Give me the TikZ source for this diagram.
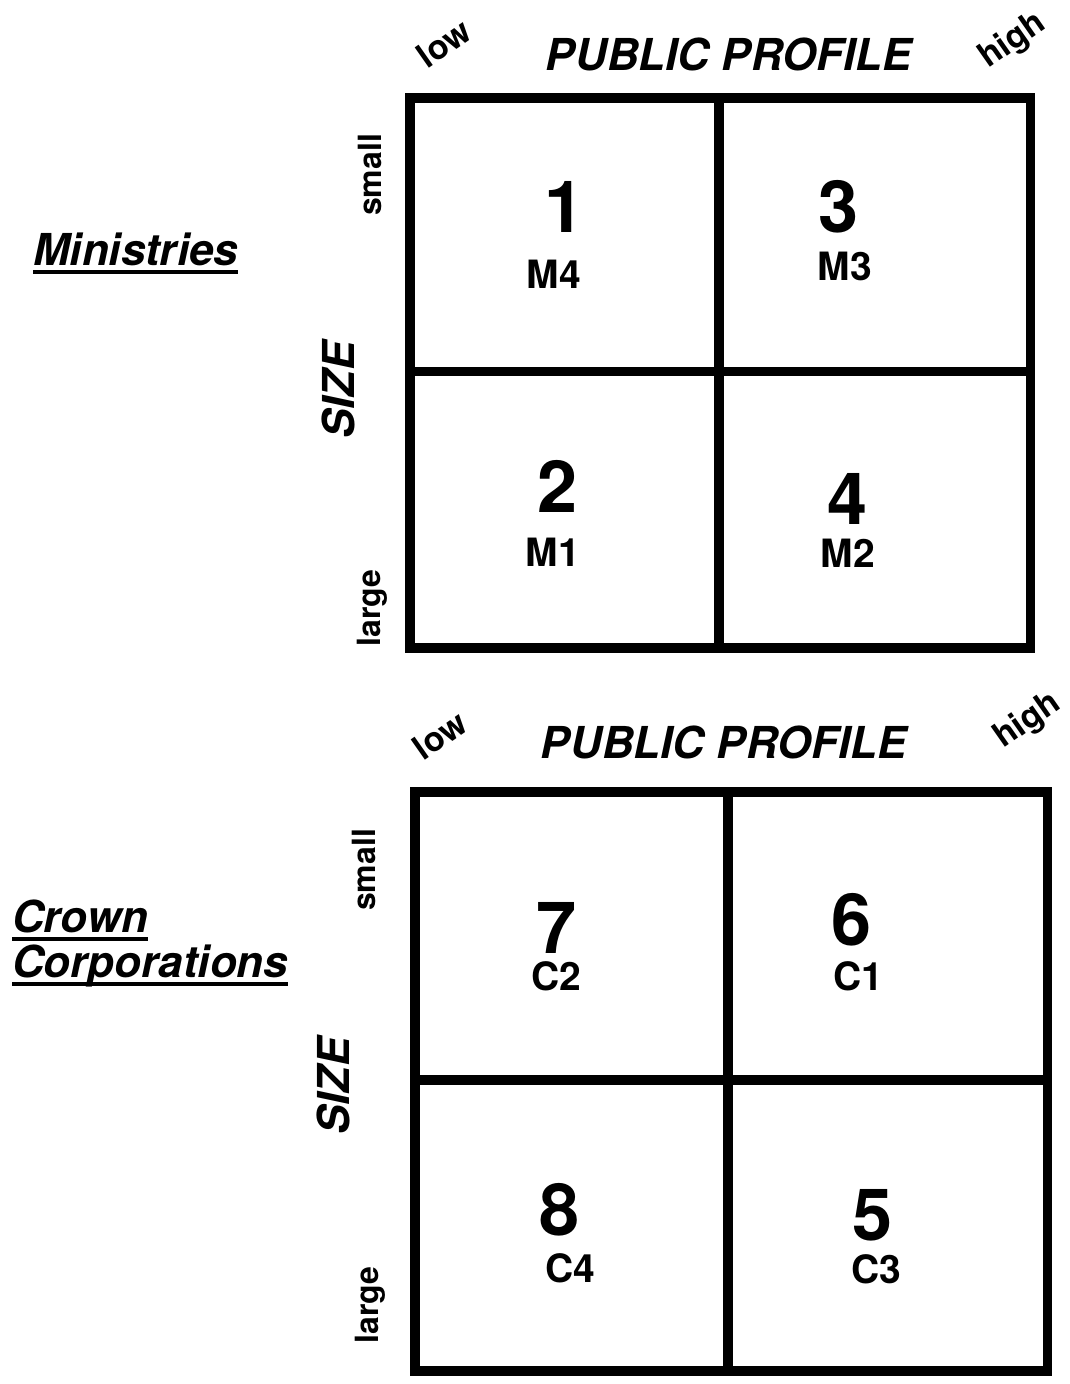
\documentclass[tikz,border=0pt]{standalone}
\usepackage{fontspec}
\setmainfont{TeX Gyre Heros}
\begin{document}
\begin{tikzpicture}[x=1pt,y=-1pt,
  gridline/.style={line width=9.5pt, line join=miter, line cap=rect},
  axislbl/.style={font=\fontsize{44}{52}\selectfont\bfseries\itshape, inner sep=0pt, anchor=base},
  sizelbl/.style={font=\fontsize{44}{52}\selectfont\bfseries\itshape, inner sep=0pt, rotate=90},
  endlbl/.style={font=\fontsize{32}{38}\selectfont\bfseries, inner sep=0pt},
  tiltlbl/.style={font=\fontsize{34}{40}\selectfont\bfseries, inner sep=0pt, rotate=35},
  numlbl/.style={font=\fontsize{72}{82}\selectfont\bfseries, inner sep=0pt, anchor=base},
  codelbl/.style={font=\fontsize{39}{45}\selectfont\bfseries, inner sep=0pt, anchor=base},
  grouplbl/.style={font=\fontsize{44}{52}\selectfont\bfseries\itshape, inner sep=0pt, anchor=base west},
  uline/.style={line width=3.5pt}]
\useasboundingbox (0,0) rectangle (1070,1384);

% ---------- Ministries grid ----------
\draw[gridline] (410,98) rectangle (1030.5,648);
\draw[gridline] (719,98) -- (719,648);
\draw[gridline] (410,371.5) -- (1030.5,371.5);

\node[tiltlbl] (low1) at (444,43) {low};
\node[axislbl] (pp1) at (729,70) {PUBLIC PROFILE};
\node[tiltlbl] (high1) at (1013,41) {high};
\node[endlbl, rotate=90] (small1) at (370,175) {small};
\node[sizelbl] (size1) at (338,390) {SIZE};
\node[endlbl, rotate=90] (large1) at (372,608) {large};

\node[grouplbl] (min) at (33,265) {Ministries};
\draw[uline] ([yshift=-7pt]min.base west) -- ([yshift=-7pt]min.base east);

\node[numlbl] (n1) at (565,232) {1};
\node[codelbl] (m4) at (554,288) {M4};
\node[numlbl] (n3) at (839,232) {3};
\node[codelbl] (m3) at (845,280) {M3};
\node[numlbl] (n2) at (558,512) {2};
\node[codelbl] (m1) at (553,566) {M1};
\node[numlbl] (n4) at (848,524) {4};
\node[codelbl] (m2) at (848,567) {M2};

% ---------- Crown Corporations grid ----------
\draw[gridline] (415,792) rectangle (1047.5,1371);
\draw[gridline] (728,792) -- (728,1371);
\draw[gridline] (415,1080) -- (1047.5,1080);

\node[tiltlbl] (low2) at (440,735) {low};
\node[axislbl] (pp2) at (724,758) {PUBLIC PROFILE};
\node[tiltlbl] (high2) at (1028,721) {high};
\node[endlbl, rotate=90] (small2) at (364,870) {small};
\node[sizelbl] (size2) at (333,1086) {SIZE};
\node[endlbl, rotate=90] (large2) at (370,1305) {large};

\node[grouplbl] (crown) at (12,932) {Crown};
\draw[uline] ([yshift=-7pt]crown.base west) -- ([yshift=-7pt]crown.base east);
\node[grouplbl] (corp) at (12,977) {Corporations};
\draw[uline] ([yshift=-7pt]corp.base west) -- ([yshift=-7pt]corp.base east);

\node[numlbl] (n7) at (557,953) {7};
\node[codelbl] (c2) at (556,990) {C2};
\node[numlbl] (n6) at (852,945) {6};
\node[codelbl] (c1) at (858,990) {C1};
\node[numlbl] (n8) at (560,1235) {8};
\node[codelbl] (c4) at (570,1282) {C4};
\node[numlbl] (n5) at (873,1240) {5};
\node[codelbl] (c3) at (876,1283) {C3};
\end{tikzpicture}
\end{document}
